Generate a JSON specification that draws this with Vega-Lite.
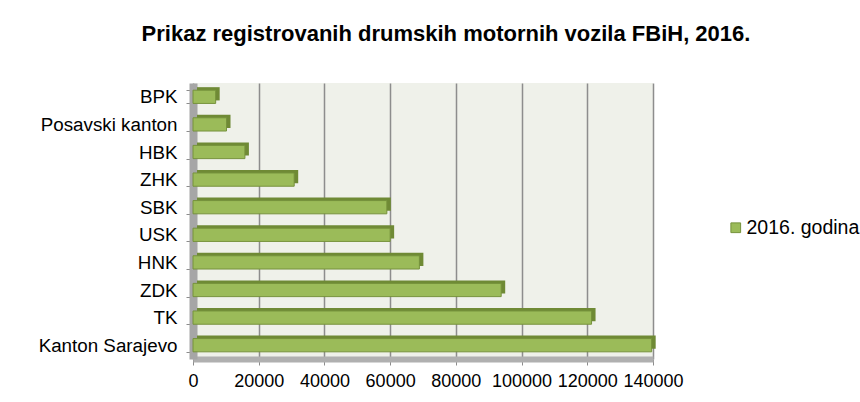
{
  "$schema": "https://vega.github.io/schema/vega-lite/v6.json",
  "autosize": "none",
  "width": 460,
  "height": 276,
  "padding": {"left": 193, "top": 83, "right": 207, "bottom": 43},
  "background": "#ffffff",
  "config": {
    "font": "Liberation Sans",
    "view": {"fill": "#eff1ea", "stroke": null}
  },
  "title": {
    "text": "Prikaz registrovanih drumskih motornih vozila FBiH, 2016.",
    "font": "Liberation Sans",
    "fontSize": 22,
    "fontWeight": "bold",
    "color": "#000000",
    "anchor": "middle",
    "dx": 23,
    "offset": 28
  },
  "data": {
    "values": [
      {"kanton": "BPK", "vozila": 6900, "serija": "2016. godina"},
      {"kanton": "Posavski kanton", "vozila": 10200, "serija": "2016. godina"},
      {"kanton": "HBK", "vozila": 15800, "serija": "2016. godina"},
      {"kanton": "ZHK", "vozila": 30800, "serija": "2016. godina"},
      {"kanton": "SBK", "vozila": 59000, "serija": "2016. godina"},
      {"kanton": "USK", "vozila": 60000, "serija": "2016. godina"},
      {"kanton": "HNK", "vozila": 68900, "serija": "2016. godina"},
      {"kanton": "ZDK", "vozila": 93800, "serija": "2016. godina"},
      {"kanton": "TK", "vozila": 121300, "serija": "2016. godina"},
      {"kanton": "Kanton Sarajevo", "vozila": 139600, "serija": "2016. godina"}
    ]
  },
  "encoding": {
    "y": {
      "field": "kanton",
      "type": "nominal",
      "sort": null,
      "scale": {"paddingInner": 0.52, "paddingOuter": 0.26},
      "axis": {
        "title": null,
        "labelFont": "Liberation Sans",
        "labelFontSize": 18.8,
        "labelColor": "#000000",
        "labelPadding": 9,
        "tickBand": "extent",
        "tickColor": "#8c8c8c",
        "tickSize": 7,
        "domainColor": "#a6a6a6",
        "domainWidth": 8,
        "zindex": 0
      }
    },
    "x": {
      "field": "vozila",
      "type": "quantitative",
      "scale": {"domain": [0, 140000], "nice": false},
      "axis": {
        "title": null,
        "format": "d",
        "values": [0, 20000, 40000, 60000, 80000, 100000, 120000, 140000],
        "labelFont": "Liberation Sans",
        "labelFontSize": 18,
        "labelColor": "#000000",
        "labelPadding": 7,
        "labelOverlap": false,
        "labelFlush": false,
        "tickColor": "#8c8c8c",
        "tickSize": 6,
        "domainColor": "#b0b0b0",
        "domainWidth": 6,
        "grid": true,
        "gridColor": "#8d8d8d",
        "gridWidth": 1.5,
        "zindex": 0
      }
    }
  },
  "layer": [
    {
      "mark": {"type": "bar", "color": "#6f8a35", "xOffset": 4, "yOffset": -3, "cornerRadius": 0}
    },
    {
      "mark": {"type": "bar", "stroke": "#76923c", "strokeWidth": 1},
      "encoding": {
        "color": {
          "field": "serija",
          "type": "nominal",
          "scale": {"range": ["#9bbb59"]},
          "legend": {
            "title": null,
            "orient": "none",
            "legendX": 533,
            "legendY": 135,
            "symbolType": "square",
            "symbolSize": 95,
            "symbolStrokeColor": "#76923c",
            "symbolStrokeWidth": 1,
            "labelFont": "Liberation Sans",
            "labelFontSize": 19.5,
            "labelColor": "#000000",
            "labelOffset": 1
          }
        }
      }
    }
  ]
}
